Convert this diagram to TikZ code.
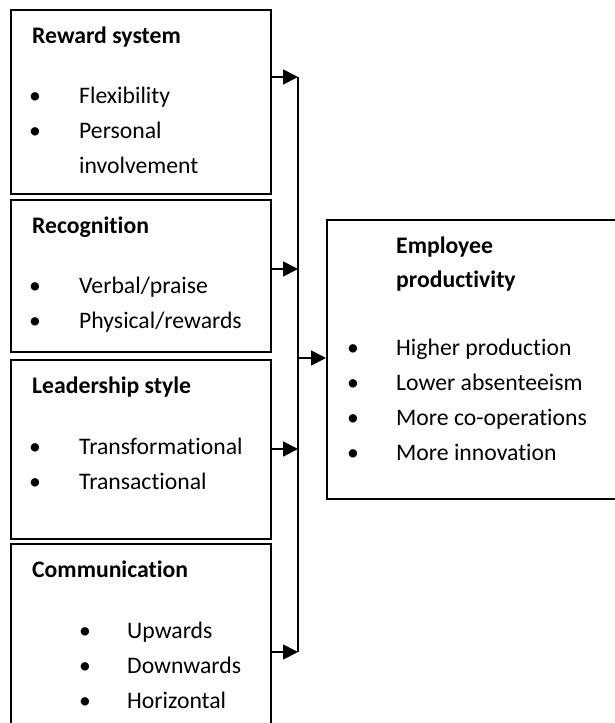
\documentclass[tikz,border=0pt]{standalone}
\usepackage{fontspec}
\setmainfont{Carlito}[Ligatures=NoCommon]
\usetikzlibrary{arrows.meta}
\begin{document}
\begin{tikzpicture}[x=1pt,y=-1pt,
  box/.style={draw=black,line width=1.8pt,rectangle,inner sep=0pt,anchor=north west},
  txt/.style={anchor=base west,inner sep=0pt,font=\fontsize{23.7}{28}\selectfont},
  head/.style={txt,font=\fontsize{23.7}{28}\selectfont\bfseries},
  bul/.style={anchor=base,inner sep=0pt,font=\fontsize{23.7}{28}\selectfont},
  arr/.style={line width=1.8pt,-{Triangle[length=15pt,width=15pt]}},
  bus/.style={line width=1.8pt}]
\useasboundingbox (0,0) rectangle (615,723);
% boxes
\node[box,minimum width=260pt,minimum height=184pt] (b1) at (10,9) {};
\node[box,minimum width=260pt,minimum height=152pt] (b2) at (10,199) {};
\node[box,minimum width=260pt,minimum height=179pt] (b3) at (10,359) {};
\node[box,minimum width=260pt,minimum height=200pt] (b4) at (10,543) {};
\node[box,minimum width=300pt,minimum height=279pt] (r) at (326,219) {};
% box 1
\node[head] (h1) at (32,43) {Reward system};
\node[bul] (d11) at (35,103) {•};
\node[txt] (t11) at (79,103) {Flexibility};
\node[bul] (d12) at (35,138) {•};
\node[txt] (t12) at (79,138) {Personal};
\node[txt] (t13) at (79,173) {involvement};
% box 2
\node[head] (h2) at (32,233) {Recognition};
\node[bul] (d21) at (35,293) {•};
\node[txt] (t21) at (79,293) {Verbal/praise};
\node[bul] (d22) at (35,328) {•};
\node[txt] (t22) at (79,328) {Physical/rewards};
% box 3
\node[head] (h3) at (32,393) {Leadership style};
\node[bul] (d31) at (35,454) {•};
\node[txt] (t31) at (79,454) {Transformational};
\node[bul] (d32) at (35,489) {•};
\node[txt] (t32) at (79,489) {Transactional};
% box 4
\node[head] (h4) at (32,577) {Communication};
\node[bul] (d41) at (85,638) {•};
\node[txt] (t41) at (127,638) {Upwards};
\node[bul] (d42) at (85,673) {•};
\node[txt] (t42) at (127,673) {Downwards};
\node[bul] (d43) at (85,708) {•};
\node[txt] (t43) at (127,708) {Horizontal};
% right box
\node[head] (hr1) at (396,253) {Employee};
\node[head] (hr2) at (396,287) {productivity};
\node[bul] (dr1) at (353,355) {•};
\node[txt] (tr1) at (396,355) {Higher production};
\node[bul] (dr2) at (353,390) {•};
\node[txt] (tr2) at (396,390) {Lower absenteeism};
\node[bul] (dr3) at (353,425) {•};
\node[txt] (tr3) at (396,425) {More co-operations};
\node[bul] (dr4) at (353,460) {•};
\node[txt] (tr4) at (396,460) {More innovation};
% connectors
\coordinate (a1) at (298,77);
\coordinate (a2) at (298,269);
\coordinate (am) at (298,358);
\coordinate (a3) at (298,449);
\coordinate (a4) at (298,652);
\draw[bus] (a1) -- (a4);
\draw[arr] (b1.east |- a1) -- (a1);
\draw[arr] (b2.east |- a2) -- (a2);
\draw[arr] (b3.east |- a3) -- (a3);
\draw[arr] (b4.east |- a4) -- (a4);
\draw[arr] (am) -- (r.west |- am);
\end{tikzpicture}
\end{document}
